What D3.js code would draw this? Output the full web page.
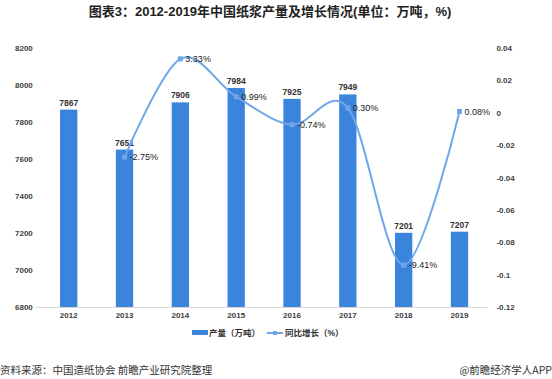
<!DOCTYPE html>
<html><head><meta charset="utf-8">
<script src="https://cdn.jsdelivr.net/npm/d3@7"></script>
<style>
body{margin:0;background:#fff;}
svg{display:block;}
</style></head>
<body>
<svg id="c" width="552" height="379"></svg>
<script>
const years = ["2012","2013","2014","2015","2016","2017","2018","2019"];
const output = [7867, 7651, 7906, 7984, 7925, 7949, 7201, 7207];
const growth = [null, -0.0275, 0.0333, 0.0099, -0.0074, 0.0030, -0.0941, 0.0008];
const growthLabels = [null, "-2.75%", "3.33%", "0.99%", "-0.74%", "0.30%", "-9.41%", "0.08%"];
const leftTicks = [6800, 7000, 7200, 7400, 7600, 7800, 8000, 8200];
const rightTicks = [-0.12, -0.1, -0.08, -0.06, -0.04, -0.02, 0, 0.02, 0.04];
const title = "图表3：2012-2019年中国纸浆产量及增长情况(单位：万吨，%)";
const legendLabels = ["产量（万吨）", "同比增长（%）"];
const sourceText = "资料来源：中国造纸协会 前瞻产业研究院整理";
const brandText = "@前瞻经济学人APP";

const barColor = "#3b84dc", lineColor = "#6fa6ea";
const svg = d3.select("#c");
const L = 40.8, R = 487.4, T = 48, B = 307;
const numFont = "'Liberation Sans', Arial, sans-serif";
const cjkFont = "'Liberation Sans', 'Noto Sans CJK SC', sans-serif";

const x = d3.scaleBand().domain(years).range([L, R]).paddingInner(0.69).paddingOuter(0.345);
const yL = d3.scaleLinear().domain([6800, 8200]).range([B, T]);
const yR = d3.scaleLinear().domain([-0.12, 0.04]).range([B, T]);

// title
svg.append("text").attr("x", 270).attr("y", 16).attr("text-anchor", "middle")
  .attr("font-family", cjkFont).attr("font-weight", "bold").attr("font-size", 13)
  .attr("fill", "#222").text(title);

// baseline
svg.append("line").attr("x1", L - 5).attr("x2", R).attr("y1", B + 0.5).attr("y2", B + 0.5)
  .attr("stroke", "#d9d9d9").attr("stroke-width", 1);

// left axis
const gL = svg.append("g").attr("transform", `translate(${L - 8},0)`)
  .call(d3.axisLeft(yL).tickValues(leftTicks).tickSize(0).tickPadding(0).tickFormat(d3.format("d")));
gL.select(".domain").remove();
gL.selectAll("text").attr("font-family", numFont).attr("font-size", 8).attr("font-weight", "bold").attr("fill", "#404040");

// right axis
const gR = svg.append("g").attr("transform", `translate(${R + 9},0)`)
  .call(d3.axisRight(yR).tickValues(rightTicks).tickSize(0).tickPadding(0).tickFormat(d => d === 0 ? "0" : String(+d.toFixed(2))));
gR.select(".domain").remove();
gR.selectAll("text").attr("font-family", numFont).attr("font-size", 8).attr("font-weight", "bold").attr("fill", "#404040");

// x axis
const gX = svg.append("g").attr("transform", `translate(0,${B + 4})`)
  .call(d3.axisBottom(x).tickSize(0).tickPadding(0));
gX.select(".domain").remove();
gX.selectAll("text").attr("dy", "0.9em").attr("font-family", numFont).attr("font-size", 8).attr("font-weight", "bold").attr("fill", "#404040");

// bars
svg.append("g").selectAll("rect").data(years).join("rect")
  .attr("x", (d) => x(d)).attr("width", x.bandwidth())
  .attr("y", (d, i) => yL(output[i])).attr("height", (d, i) => B - yL(output[i]))
  .attr("fill", barColor);

svg.append("g").selectAll("text").data(years).join("text")
  .attr("x", d => x(d) + x.bandwidth() / 2).attr("y", (d, i) => yL(output[i]) - 4)
  .attr("text-anchor", "middle").attr("font-family", numFont).attr("font-size", 8.5)
  .attr("font-weight", "bold").attr("fill", "#333").text((d, i) => output[i]);

// line
const pts = years.map((d, i) => ({year: d, v: growth[i], label: growthLabels[i]})).filter(p => p.v !== null);
const line = d3.line().x(p => x(p.year) + x.bandwidth() / 2).y(p => yR(p.v)).curve(d3.curveCardinal.tension(0));
svg.append("path").datum(pts).attr("d", line).attr("fill", "none")
  .attr("stroke", lineColor).attr("stroke-width", 2);
svg.append("g").selectAll("rect").data(pts).join("rect")
  .attr("x", p => x(p.year) + x.bandwidth() / 2 - 2.5).attr("y", p => yR(p.v) - 2.5)
  .attr("width", 5).attr("height", 5).attr("fill", lineColor);
svg.append("g").selectAll("text").data(pts).join("text")
  .attr("x", p => x(p.year) + x.bandwidth() / 2 + 5).attr("y", p => yR(p.v)).attr("dy", "0.35em")
  .attr("font-family", numFont).attr("font-size", 9).attr("fill", "#222").text(p => p.label);

// legend
const lg = svg.append("g").attr("font-family", cjkFont).attr("font-size", 8.5).attr("font-weight", "bold").attr("fill", "#333");
lg.append("rect").attr("x", 192).attr("y", 330).attr("width", 16).attr("height", 5).attr("fill", barColor);
lg.append("text").attr("x", 209).attr("y", 336).text(legendLabels[0]);
lg.append("line").attr("x1", 267).attr("x2", 283).attr("y1", 333).attr("y2", 333).attr("stroke", lineColor).attr("stroke-width", 2);
lg.append("rect").attr("x", 273).attr("y", 331).attr("width", 4).attr("height", 4).attr("fill", lineColor);
lg.append("text").attr("x", 285).attr("y", 336).text(legendLabels[1]);

// footer
svg.append("text").attr("x", 0).attr("y", 374).attr("font-family", "'Noto Sans CJK SC', sans-serif")
  .attr("font-size", 10.5).attr("fill", "#333").text(sourceText);
svg.append("text").attr("x", 552).attr("y", 374).attr("text-anchor", "end").attr("font-family", "'Noto Sans CJK SC', sans-serif")
  .attr("font-size", 10.5).attr("fill", "#333").text(brandText);
</script>
</body></html>
